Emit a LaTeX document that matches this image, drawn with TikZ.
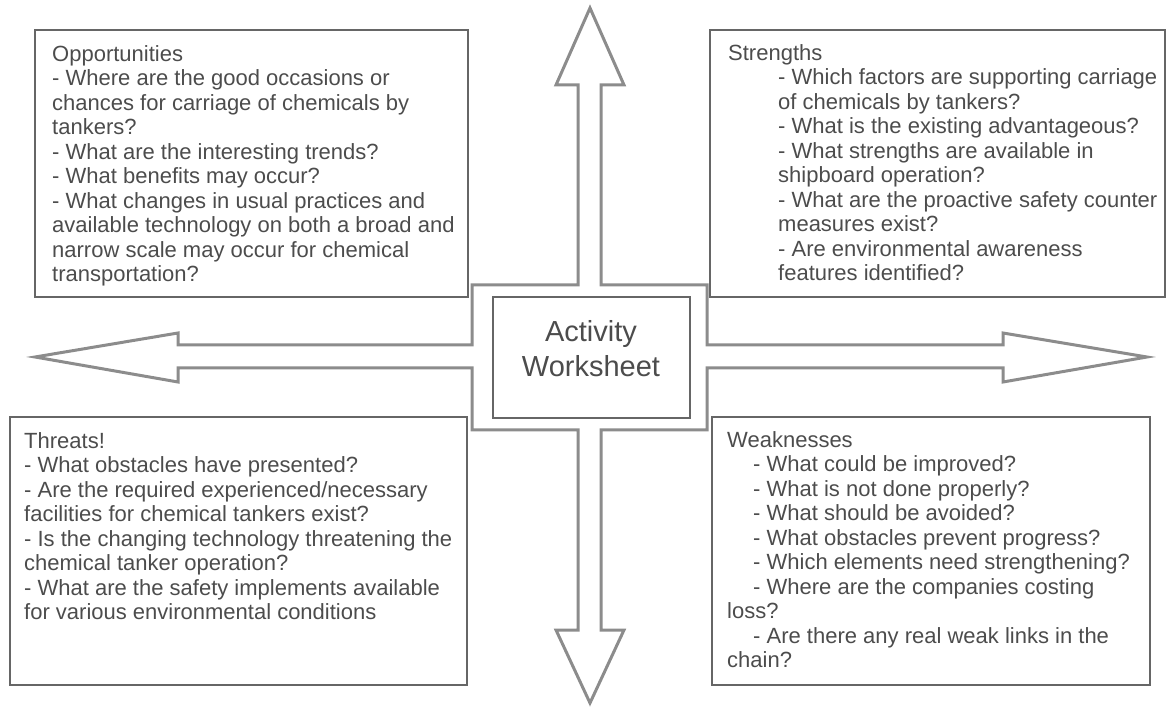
\documentclass[tikz,border=0pt]{standalone}
\usepackage{fontspec}
\setmainfont{Liberation Sans}

\newcommand{\tabind}{\hspace*{50pt}}
\newcommand{\smallind}{\hspace*{26pt}}

\tikzset{
  panel/.style={draw=black!60, line width=2.5pt},
  arrowline/.style={draw=black!45, line width=3pt, line join=miter},
  boxtext/.style={anchor=north west, align=left, inner sep=0pt, text=black!70,
    font=\fontsize{22}{24.5}\selectfont},
}

\begin{document}
\begin{tikzpicture}[x=1pt,y=-1pt]

	\useasboundingbox (0,0) rectangle (1168,708);

	% outline of the four arrows around the hub
	\draw[arrowline] (590,8) -- (624,85) -- (601,85) -- (601,285) -- (707,285)
		-- (707,345) -- (1003,345) -- (1003,333) -- (1147,357) -- (1003,382)
		-- (1003,368) -- (707,368) -- (707,430) -- (601,430) -- (601,630)
		-- (624,630) -- (590,703) -- (556,630) -- (578,630) -- (578,430)
		-- (472,430) -- (472,368) -- (178,368) -- (178,382) -- (35,357)
		-- (178,333) -- (178,345) -- (472,345) -- (472,285) -- (578,285)
		-- (578,85) -- (556,85) -- cycle;

	% side panels
	\draw[panel] (35,30) rectangle (468,297);
	\draw[panel] (710,30) rectangle (1165,297);
	\draw[panel] (10,417) rectangle (467,685);
	\draw[panel] (712,417) rectangle (1150,685);

	% centre box
	\draw[panel] (493,297) rectangle (690,418);
	\node[align=center, inner sep=0pt, text=black!70, font=\fontsize{29}{35}\selectfont] (act) at (591,349) {Activity\\Worksheet};

	\node[boxtext] (opp) at (52,45) {Opportunities\\
		- Where are the good occasions or\\
		chances for carriage of chemicals by\\
		tankers?\\
		- What are the interesting trends?\\
		- What benefits may occur?\\
		- What changes in usual practices and\\
		available technology on both a broad and\\
		narrow scale may occur for chemical\\
		transportation?};

	\node[boxtext] (str) at (728,44) {Strengths\\
		\tabind- Which factors are supporting carriage\\
		\tabind of chemicals by tankers?\\
		\tabind- What is the existing advantageous?\\
		\tabind- What strengths are available in\\
		\tabind shipboard operation?\\
		\tabind- What are the proactive safety counter\\
		\tabind measures exist?\\
		\tabind- Are environmental awareness\\
		\tabind features identified?};

	\node[boxtext] (thr) at (24,432) {Threats!\\
		- What obstacles have presented?\\
		- Are the required experienced/necessary\\
		facilities for chemical tankers exist?\\
		- Is the changing technology threatening the\\
		chemical tanker operation?\\
		- What are the safety implements available\\
		for various environmental conditions};

	\node[boxtext] (wea) at (727,431) {Weaknesses\\
		\smallind- What could be improved?\\
		\smallind- What is not done properly?\\
		\smallind- What should be avoided?\\
		\smallind- What obstacles prevent progress?\\
		\smallind- Which elements need strengthening?\\
		\smallind- Where are the companies costing\\
		loss?\\
		\smallind- Are there any real weak links in the\\
		chain?};

\end{tikzpicture}
\end{document}
